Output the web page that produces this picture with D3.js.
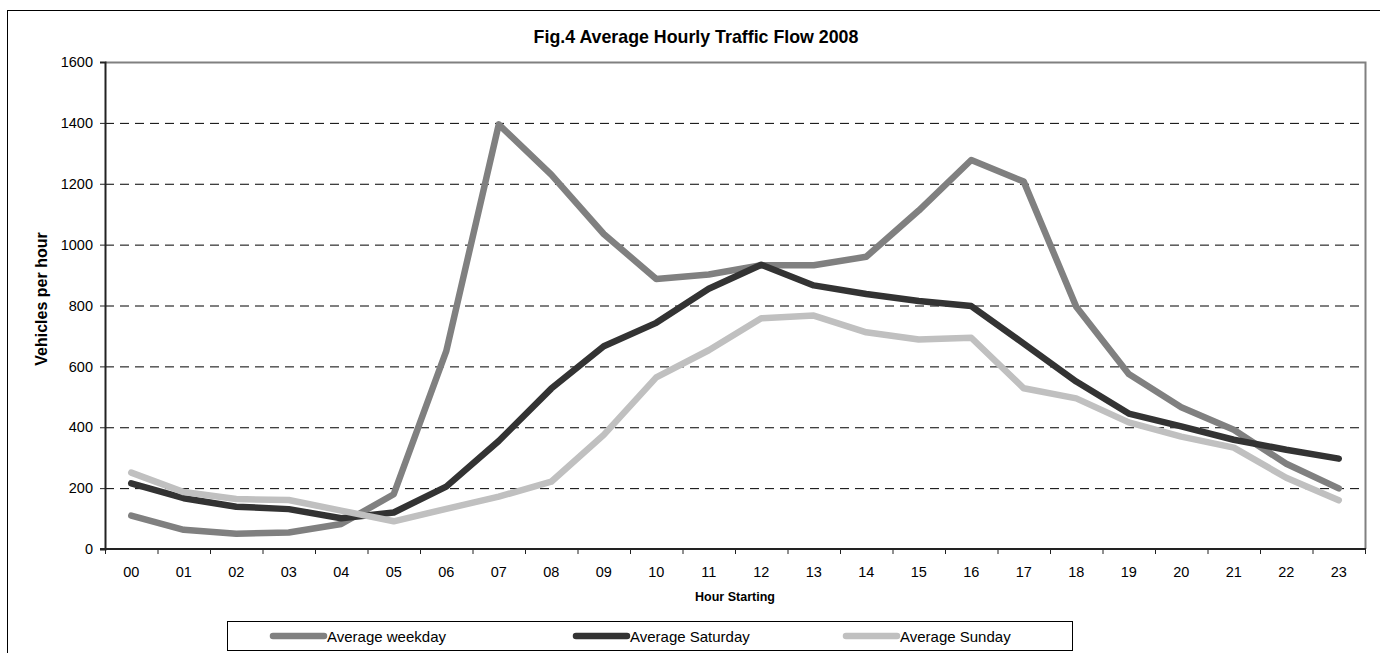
<!DOCTYPE html>
<html>
<head>
<meta charset="utf-8">
<script src="https://cdn.jsdelivr.net/npm/d3@7"></script>
<style>
  body { margin: 0; background: #fff; }
  text { font-family: "Liberation Sans", Arial, sans-serif; }
</style>
</head>
<body>
<svg id="chart" width="1380" height="653"></svg>
<script>
// hours on the x axis
var hours = ['00','01','02','03','04','05','06','07','08','09','10','11',
             '12','13','14','15','16','17','18','19','20','21','22','23'];

// vehicles per hour
var weekday  = [110, 63, 50, 54, 82, 180, 650, 1395, 1230, 1035, 887, 902,
                932, 932, 960, 1112, 1278, 1207, 796, 575, 466, 392, 280, 199];
var saturday = [216, 167, 139, 131, 101, 120, 205, 355, 527, 666, 743, 855,
                934, 866, 838, 815, 798, 675, 550, 445, 403, 359, 326, 297];
var sunday   = [251, 187, 164, 161, 126, 91, 132, 172, 221, 375, 564, 653,
                758, 767, 712, 688, 694, 528, 495, 416, 369, 333, 234, 160];

var yTicks = [0, 200, 400, 600, 800, 1000, 1200, 1400, 1600];

var seriesNames = ['Average weekday', 'Average Saturday', 'Average Sunday'];
var seriesColors = ['#808080', '#333333', '#c0c0c0'];

var svg = d3.select('#chart');

// outer frame of the chart object
svg.append('rect')
  .attr('x', 7.5).attr('y', 10.5)
  .attr('width', 1390).attr('height', 660)
  .attr('fill', 'none').attr('stroke', '#000').attr('stroke-width', 1);

var plotL = 105, plotR = 1365, plotT = 62, plotB = 549;

var x = d3.scaleBand().domain(hours).range([plotL, plotR]);
var y = d3.scaleLinear().domain([0, 1600]).range([plotB, plotT]);

// dashed gridlines
svg.append('g')
  .selectAll('line')
  .data(yTicks.filter(function(d){ return d > 0 && d < 1600; }))
  .join('line')
  .attr('x1', plotL).attr('x2', plotR)
  .attr('y1', function(d){ return y(d) + 0.5; })
  .attr('y2', function(d){ return y(d) + 0.5; })
  .attr('stroke', '#000')
  .attr('stroke-width', 1)
  .attr('stroke-dasharray', '9,6');

// plot area border top + right (grey)
svg.append('path')
  .attr('d', 'M' + plotL + ',' + (plotT + 0.5) + 'H' + (plotR + 0.5) + 'V' + plotB)
  .attr('fill', 'none')
  .attr('stroke', '#808080')
  .attr('stroke-width', 2);

// y axis
var yAxis = d3.axisLeft(y).tickValues(yTicks).tickFormat(d3.format('d'))
  .tickSize(5).tickPadding(7);
var gy = svg.append('g')
  .attr('transform', 'translate(' + plotL + ',0)')
  .call(yAxis);
gy.select('.domain').attr('stroke', '#222').attr('stroke-width', 2);
gy.selectAll('.tick line').attr('stroke', '#222');
gy.selectAll('text').attr('font-size', 14.5).attr('fill', '#000')
  .style('font-family', '"Liberation Sans", Arial, sans-serif');

// x axis: ticks between categories
var gx = svg.append('g')
  .attr('transform', 'translate(0,' + plotB + ')');
gx.append('line')
  .attr('x1', plotL - 5).attr('x2', plotR + 1)
  .attr('stroke', '#222').attr('stroke-width', 2);
gx.selectAll('.xtick')
  .data(hours.concat(['end']))
  .join('line')
  .attr('class', 'xtick')
  .attr('x1', function(d, i){ return plotL + i * x.bandwidth() + 0.5; })
  .attr('x2', function(d, i){ return plotL + i * x.bandwidth() + 0.5; })
  .attr('y1', 0).attr('y2', 5)
  .attr('stroke', '#222');
gx.selectAll('.xlab')
  .data(hours)
  .join('text')
  .attr('class', 'xlab')
  .attr('x', function(d){ return x(d) + x.bandwidth() / 2; })
  .attr('y', 28)
  .attr('text-anchor', 'middle')
  .attr('font-size', 14.5)
  .text(function(d){ return d; });

// series lines
var allSeries = [weekday, saturday, sunday];
var line = d3.line()
  .x(function(d, i){ return x(hours[i]) + x.bandwidth() / 2; })
  .y(function(d){ return y(d); });

svg.append('g')
  .selectAll('path')
  .data(allSeries)
  .join('path')
  .attr('d', line)
  .attr('fill', 'none')
  .attr('stroke', function(d, i){ return seriesColors[i]; })
  .attr('stroke-width', 6.5)
  .attr('stroke-linejoin', 'round')
  .attr('stroke-linecap', 'round');

// titles
svg.append('text')
  .attr('x', 696).attr('y', 43)
  .attr('text-anchor', 'middle')
  .attr('font-size', 17.8).attr('font-weight', 'bold')
  .text('Fig.4 Average Hourly Traffic Flow 2008');

svg.append('text')
  .attr('x', 735).attr('y', 601)
  .attr('text-anchor', 'middle')
  .attr('font-size', 12.5).attr('font-weight', 'bold')
  .text('Hour Starting');

svg.append('text')
  .attr('transform', 'translate(47,299) rotate(-90)')
  .attr('text-anchor', 'middle')
  .attr('font-size', 16).attr('font-weight', 'bold')
  .text('Vehicles per hour');

// legend
svg.append('rect')
  .attr('x', 227.5).attr('y', 621.5)
  .attr('width', 845).attr('height', 29)
  .attr('fill', '#fff').attr('stroke', '#000').attr('stroke-width', 1);

var legendX = [273, 576, 846];
var lg = svg.append('g').selectAll('g')
  .data(seriesNames)
  .join('g')
  .attr('transform', function(d, i){ return 'translate(' + legendX[i] + ',636)'; });
lg.append('line')
  .attr('x1', 0).attr('x2', 51)
  .attr('stroke', function(d, i){ return seriesColors[i]; })
  .attr('stroke-width', 6.5)
  .attr('stroke-linecap', 'round');
lg.append('text')
  .attr('x', 54).attr('y', 6)
  .attr('font-size', 15)
  .text(function(d){ return d; });
</script>
</body>
</html>
